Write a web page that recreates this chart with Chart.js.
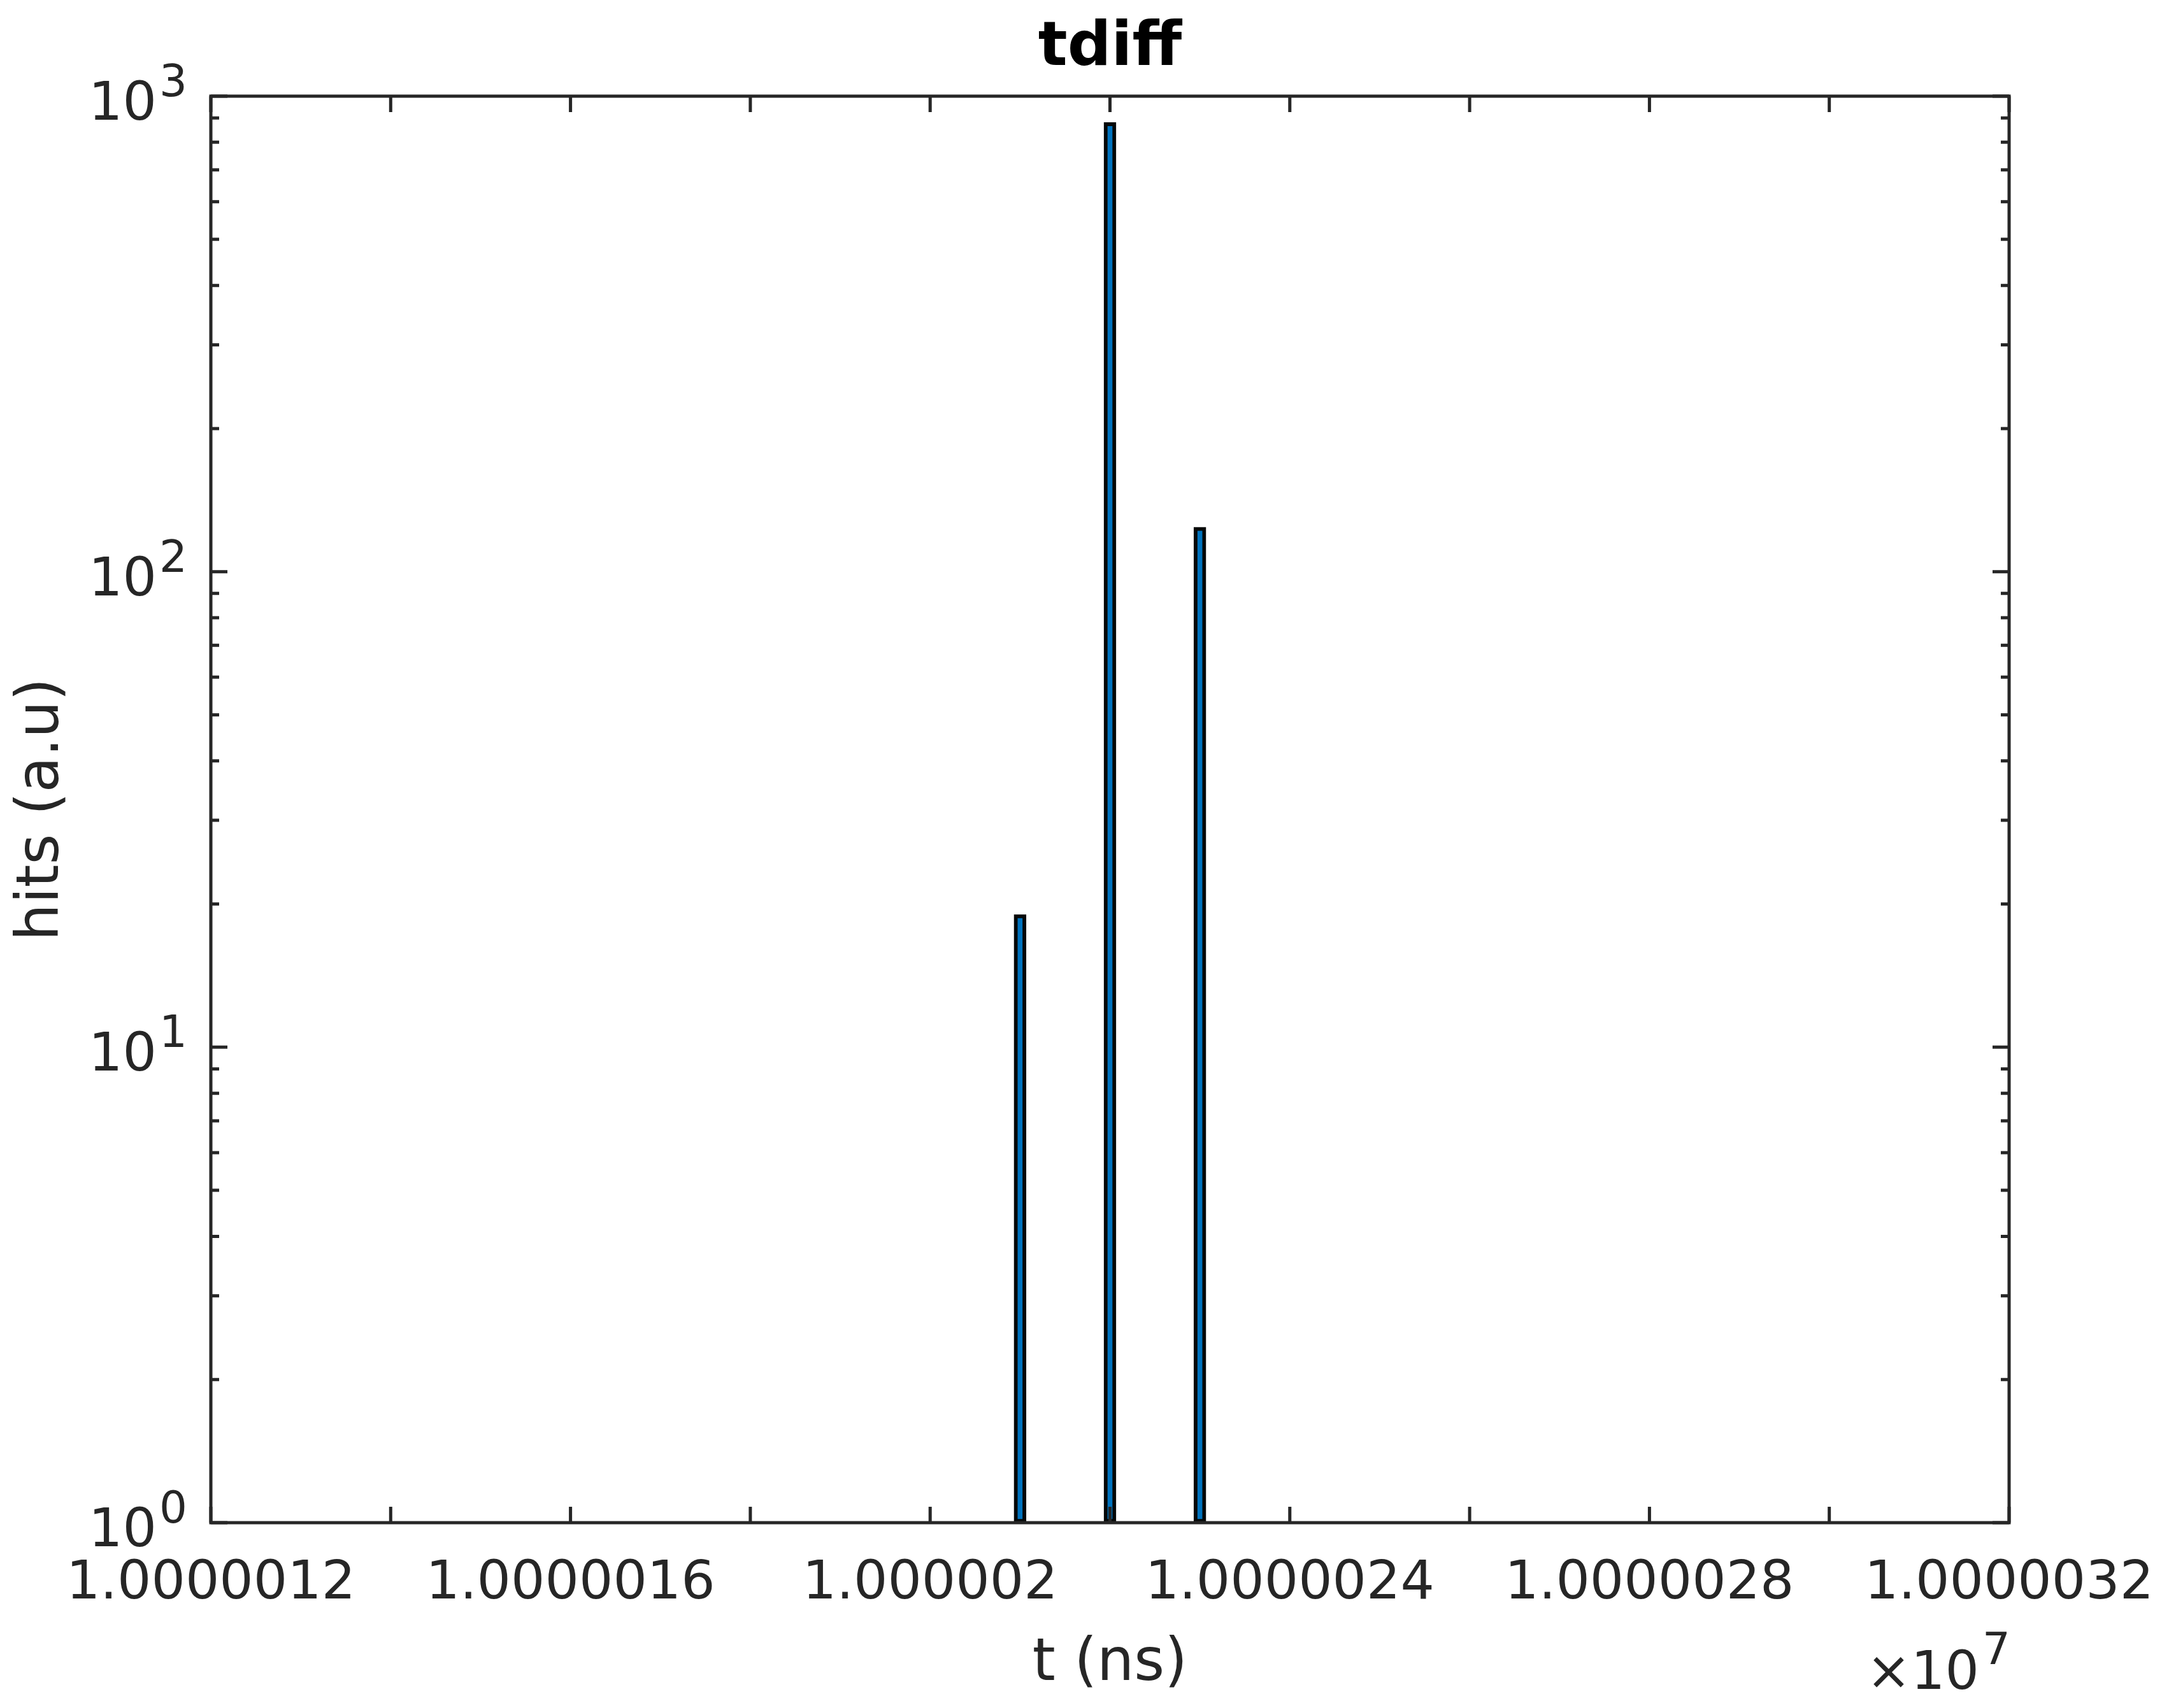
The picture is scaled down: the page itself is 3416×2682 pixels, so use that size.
<!DOCTYPE html>
<html>
<head>
<meta charset="utf-8">
<title>tdiff</title>
<script src="https://cdn.jsdelivr.net/npm/chart.js@4.4.1/dist/chart.umd.min.js"></script>
<style>
  html, body { margin: 0; padding: 0; background: #fff; }
  #chartCanvas { display: block; }
</style>
</head>
<body>
<canvas id="chartCanvas" width="3416" height="2682"></canvas>
<script>
// histogram bins (ns) and hits
const binCentres = [10000021, 10000022, 10000023];
const hits = [19, 880, 124];

// x axis: a tick every 2 ns, a label every 4 ns (shown as value / 1e7)
const xTicks = [10000012, 10000014, 10000016, 10000018, 10000020, 10000022,
  10000024, 10000026, 10000028, 10000030, 10000032];
const xTickLabels = ['1.0000012', '', '1.0000016', '', '1.000002', '',
  '1.0000024', '', '1.0000028', '', '1.0000032'];
const xExponent = '7';

// y axis (log): decades and their exponents
const yTicks = [1, 10, 100, 1000];
const yTickExponents = ['0', '1', '2', '3'];

const titleText = 'tdiff';
const xTitle = 't (ns)';
const yTitle = 'hits (a.u)';

const AXIS_COLOR = '#262626';
const FONT = '"DejaVu Sans", sans-serif';

// Ejes estilo MATLAB: marco, ticks hacia dentro y etiquetas
const matlabAxes = {
  id: 'matlabAxes',
  afterDatasetsDraw(chart) {
    const { ctx, chartArea: a, scales: { x, y } } = chart;
    ctx.save();
    ctx.strokeStyle = AXIS_COLOR;
    ctx.lineWidth = 5;
    ctx.lineCap = 'butt';

    ctx.beginPath();
    xTicks.forEach(v => {
      const px = x.getPixelForValue(v);
      ctx.moveTo(px, a.bottom); ctx.lineTo(px, a.bottom - 25);
      ctx.moveTo(px, a.top); ctx.lineTo(px, a.top + 25);
    });
    yTicks.forEach((v, i) => {
      const py = y.getPixelForValue(v);
      ctx.moveTo(a.left, py); ctx.lineTo(a.left + 26, py);
      ctx.moveTo(a.right, py); ctx.lineTo(a.right - 26, py);
      if (i < yTicks.length - 1) {
        for (let m = 2; m <= 9; m++) {
          const pm = y.getPixelForValue(v * m);
          ctx.moveTo(a.left, pm); ctx.lineTo(a.left + 13, pm);
          ctx.moveTo(a.right, pm); ctx.lineTo(a.right - 13, pm);
        }
      }
    });
    ctx.stroke();
    ctx.strokeRect(a.left, a.top, a.right - a.left, a.bottom - a.top);

    ctx.fillStyle = AXIS_COLOR;
    ctx.textBaseline = 'alphabetic';

    // x tick labels
    ctx.font = `84px ${FONT}`;
    ctx.textAlign = 'center';
    xTicks.forEach((v, i) => {
      if (xTickLabels[i]) ctx.fillText(xTickLabels[i], x.getPixelForValue(v), a.bottom + 119);
    });

    // x10^7 multiplier
    ctx.textAlign = 'right';
    ctx.fillText('\u00d710', a.right - 47, a.bottom + 261);
    ctx.font = `69px ${FONT}`;
    ctx.textAlign = 'left';
    ctx.fillText(xExponent, a.right - 42, a.bottom + 222);

    // y tick labels 10^n
    yTicks.forEach((v, i) => {
      const py = y.getPixelForValue(v);
      ctx.font = `84px ${FONT}`;
      ctx.textAlign = 'right';
      ctx.fillText('10', a.left - 85, py + 37);
      ctx.font = `69px ${FONT}`;
      ctx.textAlign = 'left';
      ctx.fillText(yTickExponents[i], a.left - 81, py);
    });

    // titles
    ctx.textAlign = 'center';
    ctx.font = `92px ${FONT}`;
    ctx.fillText(xTitle, (a.left + a.right) / 2, a.bottom + 247);

    ctx.save();
    ctx.translate(a.left - 240, (a.top + a.bottom) / 2);
    ctx.rotate(-Math.PI / 2);
    ctx.fillText(yTitle, 0, 0);
    ctx.restore();

    ctx.fillStyle = '#000';
    ctx.font = `bold 96px ${FONT}`;
    ctx.fillText(titleText, (a.left + a.right) / 2, a.top - 49);

    ctx.restore();
  }
};

const ctx = document.getElementById('chartCanvas').getContext('2d');
const chartInstance = new Chart(ctx, {
  type: 'bar',
  data: {
    datasets: [{
      label: 'tdiff',
      data: binCentres.map((t, i) => ({ x: t, y: hits[i] })),
      backgroundColor: '#0072BD',
      borderColor: '#050808',
      borderWidth: 6,
      borderSkipped: false,
      barThickness: 19,
    }],
  },
  options: {
    responsive: false,
    devicePixelRatio: 1,
    animation: false,
    layout: {
      padding: { left: 331, right: 262, top: 151, bottom: 291 },
    },
    scales: {
      x: {
        type: 'linear',
        min: xTicks[0],
        max: xTicks[xTicks.length - 1],
        offset: false,
        display: false,
        grid: { offset: false },
      },
      y: {
        type: 'logarithmic',
        min: yTicks[0],
        max: yTicks[yTicks.length - 1],
        display: false,
      },
    },
    plugins: {
      legend: { display: false },
      tooltip: { enabled: false },
      title: { display: false },
    },
  },
  plugins: [matlabAxes],
});
</script>
</body>
</html>
